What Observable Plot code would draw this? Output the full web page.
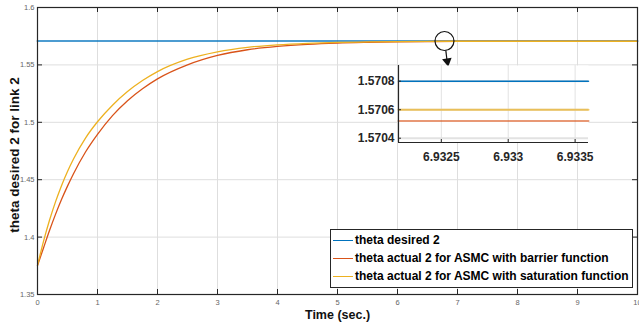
<!DOCTYPE html>
<html>
<head>
<meta charset="utf-8">
<script src="https://cdn.jsdelivr.net/npm/d3@7"></script>
<script src="https://cdn.jsdelivr.net/npm/@observablehq/plot@0.6"></script>
<style>
  html, body { margin: 0; padding: 0; background: #fff; }
  #wrap { position: relative; width: 639px; height: 333px; overflow: hidden; font-family: "Liberation Sans", Arial, sans-serif; }
  #wrap svg { position: absolute; overflow: visible; }
  #legend { position: absolute; left: 330px; top: 229px; width: 301px; height: 56px; border: 1px solid #262626; background: #fff; padding-top: 1px; box-sizing: content-box; }
  .row { height: 18px; line-height: 18px; font: bold 12px "Liberation Sans", Arial, sans-serif; color: #000; white-space: nowrap; display: flex; align-items: center; }
  .sw { display: inline-block; width: 20px; height: 0; border-top: 1.2px solid; margin: 0 2px 0 2px; }
</style>
</head>
<body>
<div id="wrap"></div>
<script>
// ---- data ----
const time = [0, 0.1, 0.2, 0.3, 0.4, 0.5, 0.6, 0.8, 1.0, 1.25, 1.5, 1.75, 2, 2.5, 3, 3.5, 4, 4.5, 5, 5.5, 6, 6.5, 7, 8, 9, 10];
const desired = [1.5708, 1.5708, 1.5708, 1.5708, 1.5708, 1.5708, 1.5708, 1.5708, 1.5708, 1.5708, 1.5708, 1.5708, 1.5708, 1.5708, 1.5708, 1.5708, 1.5708, 1.5708, 1.5708, 1.5708, 1.5708, 1.5708, 1.5708, 1.5708, 1.5708, 1.5708];
const barrier = [1.3753, 1.3905, 1.4057, 1.4198, 1.4327, 1.4444, 1.4552, 1.4741, 1.4895, 1.5058, 1.5188, 1.5292, 1.5378, 1.5500, 1.5582, 1.5632, 1.5661, 1.5679, 1.5690, 1.5696, 1.5700, 1.5703, 1.57052, 1.57052, 1.57052, 1.57052];
const saturation = [1.3753, 1.3963, 1.4147, 1.4307, 1.4448, 1.4572, 1.4681, 1.4863, 1.5005, 1.5149, 1.5268, 1.5364, 1.5442, 1.5550, 1.5614, 1.5653, 1.5675, 1.5688, 1.5696, 1.5700, 1.5703, 1.5705, 1.5706, 1.5706, 1.5706, 1.5706];

const seriesNames = ["theta desired 2", "theta actual 2 for ASMC with barrier function", "theta actual 2 for ASMC with saturation function"];
const seriesColors = ["#0072BD", "#D95319", "#EDB120"];

const xTicks = [0, 1, 2, 3, 4, 5, 6, 7, 8, 9, 10];
const yTicks = [1.35, 1.4, 1.45, 1.5, 1.55, 1.6];
const xDomain = [0, 10];
const yDomain = [1.35, 1.6];
const xLabel = "Time (sec.)";
const yLabel = "theta desired 2 for link 2";

// zoom inset
const insetTime = [6.93218, 6.9336];
const insetValues = [1.5708, 1.57052, 1.5706]; // desired, barrier, saturation
const insetXTicks = [6.9325, 6.933, 6.9335];
const insetYTicks = [1.5704, 1.5706, 1.5708];
const insetYDomain = [1.57037, 1.57091];

// annotation (circle + arrow)
const zoomCircle = [{t: 6.783, v: 1.5708}];
const zoomArrow = [{t1: 6.805, v1: 1.5626, t2: 6.826, v2: 1.5535}];
const zoomArrowHead = [{t: 6.83, v: 1.5532}];

// ---- build tables ----
const mainRows = [];
[desired, barrier, saturation].forEach((vals, s) => {
  vals.forEach((v, i) => mainRows.push({series: s, t: time[i], v}));
});
const insetRows = [];
insetValues.forEach((v, s) => insetTime.forEach(t => insetRows.push({series: s, t, v})));

const W = 639, H = 333, mL = 37, mR = 2, mT = 7, mB = 39;
const plotH = H - mT - mB, plotW = W - mL - mR;
const font = "Liberation Sans, Arial, sans-serif";

const main = Plot.plot({
  width: W, height: H,
  marginLeft: mL, marginRight: mR, marginTop: mT, marginBottom: mB,
  x: {domain: xDomain},
  y: {domain: yDomain},
  style: {background: "transparent", fontFamily: font},
  marks: [
    Plot.gridX({ticks: xTicks, stroke: "#dedede", strokeOpacity: 1}),
    Plot.gridY({ticks: yTicks, stroke: "#dedede", strokeOpacity: 1}),
    Plot.line(mainRows.filter(d => d.series === 0), {x: "t", y: "v", stroke: seriesColors[0], strokeWidth: 2, strokeOpacity: 0.7}),
    Plot.line(mainRows.filter(d => d.series === 1), {x: "t", y: "v", stroke: seriesColors[1], strokeWidth: 1.3, curve: "monotone-x"}),
    Plot.line(mainRows.filter(d => d.series === 2), {x: "t", y: "v", stroke: seriesColors[2], strokeWidth: 1.3, curve: "monotone-x"}),
    Plot.ruleX(xTicks, {insetTop: plotH - 5, stroke: "#262626"}),
    Plot.ruleX(xTicks, {insetBottom: plotH - 5, stroke: "#262626"}),
    Plot.ruleY(yTicks, {insetRight: plotW - 5, stroke: "#262626"}),
    Plot.ruleY(yTicks, {insetLeft: plotW - 5, stroke: "#262626"}),
    Plot.frame({stroke: "#262626", strokeWidth: 1.2}),
    Plot.axisX({ticks: xTicks, tickSize: 0, tickPadding: 5, fontSize: 7.5, fill: "#666", label: null}),
    Plot.axisY({ticks: yTicks, tickSize: 0, tickPadding: 3, fontSize: 7.5, fill: "#666", label: null, tickFormat: d => String(d)}),
    Plot.dot(zoomCircle, {x: "t", y: "v", r: 9.5, stroke: "#111", strokeWidth: 1.2, fill: "none"}),
    Plot.link(zoomArrow, {x1: "t1", y1: "v1", x2: "t2", y2: "v2", stroke: "#111", strokeWidth: 1.2}),
    Plot.dot(zoomArrowHead, {x: "t", y: "v", symbol: "triangle", r: 3.6, rotate: 170, fill: "#111", stroke: "none"}),
    Plot.text([yLabel], {text: d => d, frameAnchor: "left", textAnchor: "middle", rotate: -90, dx: -23, dy: 4, fontSize: 13.5, fontWeight: "bold", fill: "#111"}),
    Plot.text([xLabel], {text: d => d, frameAnchor: "bottom", dy: 24, fontSize: 12.5, fontWeight: "bold", fill: "#111"})
  ]
});
main.style.left = "0px"; main.style.top = "0px";
document.getElementById("wrap").appendChild(main);

// inset
const iL = 60, iR = 10, iT = 5, iB = 25, iPW = 190, iPH = 77;
const inset = Plot.plot({
  width: iL + iPW + iR, height: iT + iPH + iB,
  marginLeft: iL, marginRight: iR, marginTop: iT, marginBottom: iB,
  x: {domain: insetTime},
  y: {domain: insetYDomain},
  style: {background: "transparent", fontFamily: font},
  marks: [
    Plot.frame({fill: "white", stroke: null}),
    Plot.gridX({ticks: insetXTicks, stroke: "#e2e2e2", strokeOpacity: 1}),
    Plot.gridY({ticks: insetYTicks, stroke: "#e2e2e2", strokeOpacity: 1, strokeWidth: 2}),
    Plot.line(insetRows.filter(d => d.series === 0), {x: "t", y: "v", stroke: seriesColors[0], strokeWidth: 1.5}),
    Plot.line(insetRows.filter(d => d.series === 2), {x: "t", y: "v", stroke: seriesColors[2], strokeWidth: 2, strokeOpacity: 0.7}),
    Plot.line(insetRows.filter(d => d.series === 1), {x: "t", y: "v", stroke: seriesColors[1], strokeWidth: 2, strokeOpacity: 0.6}),
    Plot.ruleX(insetXTicks, {insetTop: iPH - 3, stroke: "#262626"}),
    Plot.ruleY(insetYTicks, {insetRight: iPW - 3, stroke: "#262626"}),
    Plot.ruleX([insetTime[0]], {stroke: "#262626", strokeWidth: 1.2}),
    Plot.ruleY([insetYDomain[0]], {stroke: "#262626", strokeWidth: 1.2}),
    Plot.axisX({ticks: insetXTicks, tickSize: 0, tickPadding: 10, fontSize: 12, fontWeight: "bold", fill: "#262626", label: null, tickFormat: d => String(d)}),
    Plot.axisY({ticks: insetYTicks, tickSize: 0, tickPadding: 4, fontSize: 12, fontWeight: "bold", fill: "#262626", label: null, tickFormat: d => String(d)})
  ]
});
inset.style.left = "338px"; inset.style.top = "60px";
document.getElementById("wrap").appendChild(inset);

// legend
const legend = document.createElement("div");
legend.id = "legend";
seriesNames.forEach((name, i) => {
  const row = document.createElement("div");
  row.className = "row";
  const sw = document.createElement("span");
  sw.className = "sw";
  sw.style.borderTopColor = seriesColors[i];
  row.appendChild(sw);
  row.appendChild(document.createTextNode(name));
  legend.appendChild(row);
});
document.getElementById("wrap").appendChild(legend);
</script>
</body>
</html>
